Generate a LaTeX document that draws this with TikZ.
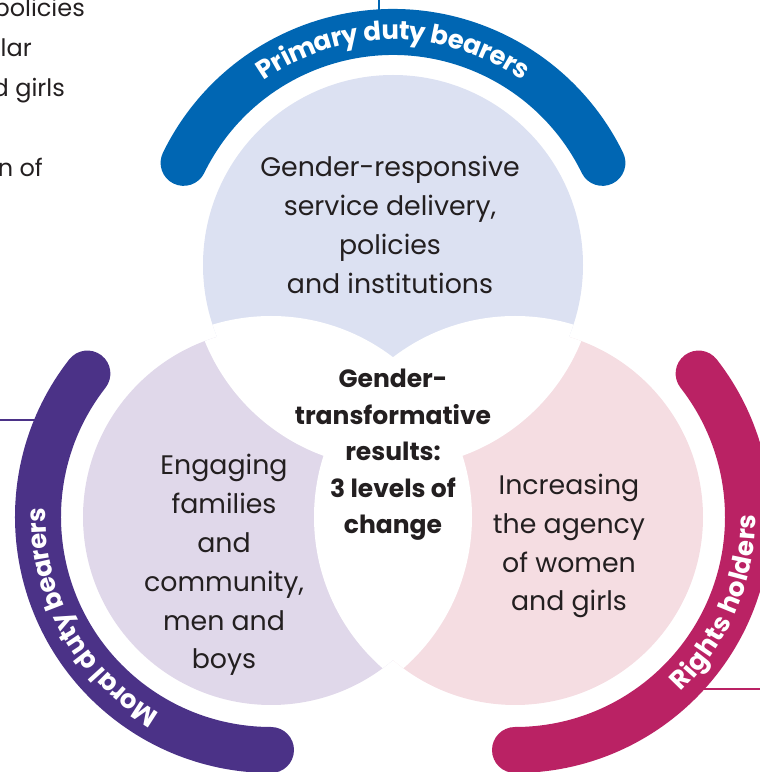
\documentclass[tikz,border=0pt]{standalone}
\usepackage{fontspec}
\setmainfont{Poppins}
\usetikzlibrary{decorations.text,calc}

\definecolor{dutyblue}{RGB}{0,102,179}
\definecolor{moralpurple}{RGB}{75,50,135}
\definecolor{rightspink}{RGB}{186,34,100}
\definecolor{dutyfill}{RGB}{220,225,242}
\definecolor{moralfill}{RGB}{224,216,234}
\definecolor{rightsfill}{RGB}{245,221,226}
\definecolor{ink}{RGB}{35,31,32}

\newcommand{\arcfont}{\bfseries\fontsize{26}{26}\selectfont}

\begin{document}
\begin{tikzpicture}[
    x=1pt, y=1pt,
    zone/.style={align=center, text=ink, font=\fontsize{26.8}{38.9}\selectfont},
    core/.style={align=center, text=ink, font=\bfseries\fontsize{25}{36.5}\selectfont},
    side/.style={anchor=base east, inner sep=0pt, text=ink, font=\fontsize{24}{24}\selectfont},
    band/.style={line width=46pt, line cap=round},
    leader/.style={line width=2pt},
    arclabel/.style={decorate, decoration={text along path, text align=center, raise=-7.8pt, text color=white, text={|\arcfont|#1}}},
]
\useasboundingbox (0,0) rectangle (760,772);

% Centres of the three circles
\coordinate (topc) at (393,507);
\coordinate (leftc) at (271,255);
\coordinate (rightc) at (515,255);

% Text running in from the left
\begin{scope}
\clip (0,0) rectangle (760,772);
\node[side] (sideA) at (85,755) {policies};
\node[side] (sideB) at (32,715) {lar};
\node[side] (sideC) at (65,675) {d girls};
\node[side] (sideD) at (43,595) {n of};
\end{scope}

% Discs
\fill[dutyfill] (topc) circle[radius=190pt];
\fill[moralfill] (leftc) circle[radius=188pt];
\fill[rightsfill] (rightc) circle[radius=188pt];

% Overlaps cut out with a white gap
\begin{scope}
\clip (topc) circle[radius=190pt];
\fill[white] (leftc) circle[radius=201pt] (rightc) circle[radius=201pt];
\end{scope}
\begin{scope}
\clip (leftc) circle[radius=188pt];
\fill[white] (topc) circle[radius=203pt] (rightc) circle[radius=201pt];
\end{scope}
\begin{scope}
\clip (rightc) circle[radius=188pt];
\fill[white] (topc) circle[radius=203pt] (leftc) circle[radius=201pt];
\end{scope}

% Leader lines
\coordinate (topout) at (379,772);
\coordinate (topin) at (379,758);
\coordinate (leftout) at (0,352);
\coordinate (leftin) at (42,352);
\coordinate (rightout) at (760,83);
\coordinate (rightin) at (700,83);
\draw[leader, dutyblue] (topout) -- (topin);
\draw[leader, moralpurple] (leftout) -- (leftin);
\draw[leader, rightspink] (rightout) -- (rightin);

% Outer bands
\draw[band, dutyblue] ([shift={(154:233pt)}]topc) arc[start angle=154, end angle=26, radius=233pt];
\draw[band, moralpurple] ([shift={(142:233pt)}]leftc) arc[start angle=142, end angle=270, radius=233pt];
\draw[band, rightspink] ([shift={(-90:233pt)}]rightc) arc[start angle=-90, end angle=38, radius=233pt];

% Band labels
\path[arclabel={Primary duty bearers}] ([shift={(154:233pt)}]topc) arc[start angle=154, end angle=26, radius=233pt];
\path[arclabel={Moral duty bearers}] ([shift={(270:233pt)}]leftc) arc[start angle=270, end angle=148, radius=233pt];
\path[arclabel={Rights holders}] ([shift={(-90:233pt)}]rightc) arc[start angle=-90, end angle=44, radius=233pt];

% Disc texts
\node[zone] (service) at (390,547) {Gender-responsive\\service delivery,\\policies\\and institutions};
\node[zone] (families) at (224,207) {Engaging\\families\\and\\community,\\men and\\boys};
\node[zone] (agency) at (569,226) {Increasing\\the agency\\of women\\and girls};
\node[core] (results) at (393,317) {Gender-\\transformative\\results:\\3 levels of\\change};

\end{tikzpicture}
\end{document}
